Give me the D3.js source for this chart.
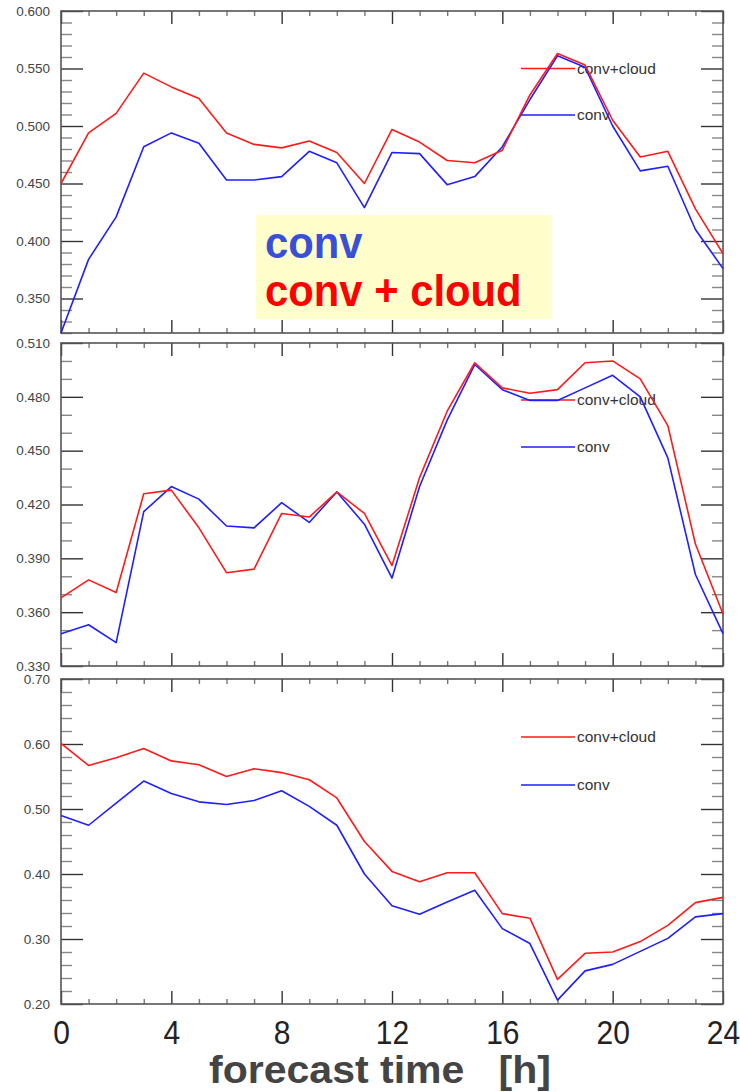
<!DOCTYPE html>
<html>
<head>
<meta charset="utf-8">
<script src="https://cdn.jsdelivr.net/npm/d3@7"></script>
<style>
  body { margin: 0; background: #fff; }
  svg { display: block; font-family: "Liberation Sans", Arial, Helvetica, sans-serif; }
</style>
</head>
<body>
<div id="chart"></div>
<script>
// forecast hours (x categories)
var hours = [0,1,2,3,4,5,6,7,8,9,10,11,12,13,14,15,16,17,18,19,20,21,22,23,24];
var xTicks = [0,4,8,12,16,20,24];
var legendLabels = ["conv+cloud", "conv"];
var boxLabels = ["conv", "conv + cloud"];
var xTitle = "forecast time   [h]";

// panel 1 (top)
var p1ConvCloud = [0.450,0.494,0.511,0.546,0.534,0.524,0.494,0.484,0.481,0.487,0.477,0.450,0.497,
                   0.486,0.470,0.468,0.479,0.527,0.563,0.553,0.505,0.473,0.478,0.428,0.389];
var p1Conv      = [0.320,0.384,0.421,0.482,0.494,0.485,0.453,0.453,0.456,0.478,0.468,0.429,0.477,
                   0.476,0.449,0.456,0.482,0.523,0.561,0.551,0.500,0.461,0.465,0.410,0.376];
var p1Ticks = [0.35,0.40,0.45,0.50,0.55,0.60];

// panel 2 (middle)
var p2ConvCloud = [0.368,0.378,0.371,0.426,0.428,0.407,0.382,0.384,0.415,0.413,0.427,0.415,0.386,
                   0.435,0.472,0.499,0.485,0.482,0.484,0.499,0.500,0.490,0.464,0.398,0.359];
var p2Conv      = [0.348,0.353,0.343,0.416,0.430,0.423,0.408,0.407,0.421,0.410,0.427,0.409,0.379,
                   0.430,0.467,0.498,0.484,0.478,0.478,0.485,0.492,0.480,0.446,0.381,0.348];
var p2Ticks = [0.33,0.36,0.39,0.42,0.45,0.48,0.51];

// panel 3 (bottom)
var p3ConvCloud = [0.601,0.567,0.579,0.593,0.574,0.568,0.550,0.562,0.556,0.545,0.517,0.450,0.404,
                   0.388,0.402,0.402,0.339,0.332,0.238,0.278,0.280,0.296,0.321,0.356,0.364];
var p3Conv      = [0.490,0.475,0.509,0.543,0.524,0.511,0.507,0.513,0.528,0.504,0.475,0.400,0.351,
                   0.338,0.357,0.375,0.316,0.293,0.206,0.251,0.261,0.281,0.301,0.334,0.339];
var p3Ticks = [0.20,0.30,0.40,0.50,0.60,0.70];

var W = 740, H = 1092;
var left = 61, right = 723;

// layout of each panel (pixel boxes, domains, styling)
var panels = [
  {top: 11,  bottom: 333, domain: [0.32, 0.60], ticks: p1Ticks, minor: 0.01, fmt: ".3f",
   red: p1ConvCloud, blue: p1Conv, legY: [68.5, 115]},
  {top: 343, bottom: 666, domain: [0.33, 0.51], ticks: p2Ticks, minor: 0.01, fmt: ".3f",
   red: p2ConvCloud, blue: p2Conv, legY: [400, 447]},
  {top: 679, bottom: 1004, domain: [0.20, 0.70], ticks: p3Ticks, minor: 0.02, fmt: ".2f",
   red: p3ConvCloud, blue: p3Conv, legY: [737, 785]}
];

var RED = "#ff1a1a", BLUE = "#1f1fff";

var svg = d3.select("#chart").append("svg")
  .attr("width", W)
  .attr("height", H);

var x = d3.scaleLinear().domain([0, 24]).range([left, right]);
var minorHours = hours.filter(function(h){ return xTicks.indexOf(h) < 0; });

function styleAxis(g, color) {
  g.select(".domain").remove();
  g.selectAll(".tick line").attr("stroke", color).attr("stroke-width", 1.4);
}

panels.forEach(function(p, i) {
  var y = d3.scaleLinear().domain(p.domain).range([p.bottom, p.top]);
  var minorVals = d3.range(p.domain[0], p.domain[1] + 1e-9, p.minor).filter(function(v){
    return !p.ticks.some(function(t){ return Math.abs(t - v) < 1e-6; });
  });

  var g = svg.append("g");

  // left axis: major ticks with labels, inward
  g.append("g")
    .attr("transform", "translate(" + left + ",0)")
    .call(d3.axisLeft(y).tickValues(p.ticks).tickSizeInner(-22).tickSizeOuter(0)
      .tickPadding(11).tickFormat(d3.format(p.fmt)))
    .call(styleAxis, "#333")
    .selectAll("text")
      .attr("fill", "#444")
      .style("font-size", "13.5px");

  g.append("g")
    .attr("transform", "translate(" + left + ",0)")
    .call(d3.axisLeft(y).tickValues(minorVals).tickSize(-11).tickFormat(""))
    .call(styleAxis, "#888");

  // right axis: mirrored ticks
  g.append("g")
    .attr("transform", "translate(" + right + ",0)")
    .call(d3.axisRight(y).tickValues(p.ticks).tickSize(-22).tickFormat(""))
    .call(styleAxis, "#333");
  g.append("g")
    .attr("transform", "translate(" + right + ",0)")
    .call(d3.axisRight(y).tickValues(minorVals).tickSize(-11).tickFormat(""))
    .call(styleAxis, "#888");

  // top and bottom x ticks
  g.append("g")
    .attr("transform", "translate(0," + p.top + ")")
    .call(d3.axisTop(x).tickValues(xTicks).tickSize(-13).tickFormat(""))
    .call(styleAxis, "#333");
  g.append("g")
    .attr("transform", "translate(0," + p.top + ")")
    .call(d3.axisTop(x).tickValues(minorHours).tickSize(-5).tickFormat(""))
    .call(styleAxis, "#777");
  g.append("g")
    .attr("transform", "translate(0," + p.bottom + ")")
    .call(d3.axisBottom(x).tickValues(xTicks).tickSize(-13).tickFormat(""))
    .call(styleAxis, "#333");
  g.append("g")
    .attr("transform", "translate(0," + p.bottom + ")")
    .call(d3.axisBottom(x).tickValues(minorHours).tickSize(-5).tickFormat(""))
    .call(styleAxis, "#777");

  // frame
  g.append("rect")
    .attr("x", left).attr("y", p.top)
    .attr("width", right - left).attr("height", p.bottom - p.top)
    .attr("fill", "none")
    .attr("stroke", "#555")
    .attr("stroke-width", 1.6);

  // legend
  var legColors = [RED, BLUE];
  legendLabels.forEach(function(lab, k) {
    g.append("line")
      .attr("x1", 521).attr("x2", 575)
      .attr("y1", p.legY[k]).attr("y2", p.legY[k])
      .attr("stroke", legColors[k])
      .attr("stroke-width", 1.5);
    g.append("text")
      .attr("x", 577).attr("y", p.legY[k])
      .attr("dy", "0.35em")
      .attr("fill", "#333")
      .style("font-size", "15.5px")
      .text(lab);
  });

  // the two series
  var line = d3.line()
    .x(function(d, j){ return x(hours[j]); })
    .y(function(d){ return y(d); });

  g.append("path")
    .datum(p.blue)
    .attr("fill", "none")
    .attr("stroke", BLUE)
    .attr("stroke-width", 1.6)
    .attr("stroke-linejoin", "round")
    .attr("d", line);

  g.append("path")
    .datum(p.red)
    .attr("fill", "none")
    .attr("stroke", RED)
    .attr("stroke-width", 1.6)
    .attr("stroke-linejoin", "round")
    .attr("d", line);
});

// yellow annotation box in the top panel
svg.append("rect")
  .attr("x", 256).attr("y", 215)
  .attr("width", 296).attr("height", 104)
  .attr("fill", "#ffffcc");

var boxColors = ["#3a4fd8", "#ff0000"];
var boxBase = [258, 306];
boxLabels.forEach(function(lab, k) {
  svg.append("text")
    .attr("transform", "translate(265," + boxBase[k] + ") scale(1.02,1.08)")
    .attr("fill", boxColors[k])
    .style("font-size", "41px")
    .style("font-weight", "bold")
    .text(lab);
});

// big bottom axis labels
var xAxisBig = svg.append("g")
  .attr("transform", "translate(0,1004)")
  .call(d3.axisBottom(x).tickValues(xTicks).tickSize(0).tickPadding(0).tickFormat(d3.format("d")));
xAxisBig.select(".domain").remove();
xAxisBig.selectAll("text")
  .attr("y", 36)
  .attr("dy", null)
  .attr("fill", "#222")
  .style("font-size", "30px")
  .attr("transform", "scale(1,1.1)");

svg.append("text")
  .attr("x", 380).attr("y", 1083)
  .attr("text-anchor", "middle")
  .attr("fill", "#444")
  .style("font-size", "38px")
  .style("font-weight", "bold")
  .style("white-space", "pre")
  .attr("transform", "translate(380,0) scale(1.08,1) translate(-380,0)")
  .text(xTitle);
</script>
</body>
</html>
